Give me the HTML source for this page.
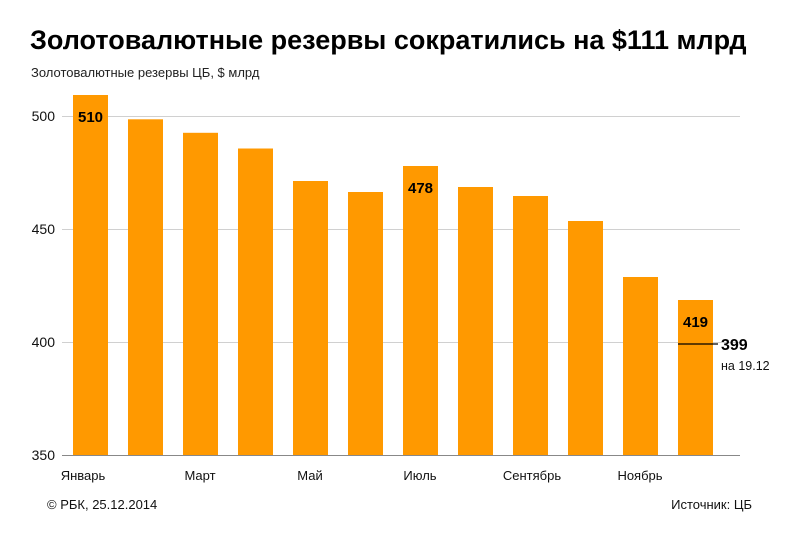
<!DOCTYPE html>
<html><head><meta charset="utf-8"><style>
body{margin:0;background:#fff;}
svg{display:block;font-family:"Liberation Sans",sans-serif;}
</style></head><body>
<svg width="800" height="533" viewBox="0 0 800 533">
<text x="30" y="49" font-size="27" font-weight="bold" fill="#000">Золотовалютные резервы сократились на $111 млрд</text>
<text x="31" y="77" font-size="13" fill="#222">Золотовалютные резервы ЦБ, $ млрд</text>
<g stroke="#d0d0d0" stroke-width="1">
<line x1="62" y1="116.5" x2="740" y2="116.5"/>
<line x1="62" y1="229.5" x2="740" y2="229.5"/>
<line x1="62" y1="342.5" x2="740" y2="342.5"/>
</g>
<line x1="62" y1="455.5" x2="740" y2="455.5" stroke="#888" stroke-width="1"/>
<g font-size="14" fill="#111" text-anchor="end">
<text x="55" y="121">500</text><text x="55" y="234">450</text><text x="55" y="347">400</text><text x="55" y="460">350</text>
</g>
<g fill="#ff9900">
<rect x="73" y="95" width="35" height="360"/>
<rect x="128" y="119.3" width="35" height="335.7"/>
<rect x="183" y="132.8" width="35" height="322.2"/>
<rect x="238" y="148.5" width="35" height="306.5"/>
<rect x="293" y="181" width="35" height="274"/>
<rect x="348" y="192" width="35" height="263"/>
<rect x="403" y="166" width="35" height="289"/>
<rect x="458" y="187" width="35" height="268"/>
<rect x="513" y="196" width="35" height="259"/>
<rect x="568" y="221" width="35" height="234"/>
<rect x="623" y="277" width="35" height="178"/>
<rect x="678" y="300" width="35" height="155"/>
</g>
<g font-size="15" font-weight="bold" fill="#000" text-anchor="middle">
<text x="90.5" y="122">510</text>
<text x="420.5" y="193">478</text>
<text x="695.5" y="327">419</text>
</g>
<line x1="678" y1="344" x2="718" y2="344" stroke="#000" stroke-width="1.3"/>
<text x="721" y="350" font-size="16" font-weight="bold" fill="#000">399</text>
<text x="721" y="370" font-size="12.5" fill="#111">на 19.12</text>
<g font-size="13" fill="#111" text-anchor="middle">
<text x="83" y="480">Январь</text>
<text x="200" y="480">Март</text>
<text x="310" y="480">Май</text>
<text x="420" y="480">Июль</text>
<text x="532" y="480">Сентябрь</text>
<text x="640" y="480">Ноябрь</text>
</g>
<text x="47" y="509" font-size="13" fill="#111">© РБК, 25.12.2014</text>
<text x="752" y="509" font-size="13" fill="#111" text-anchor="end">Источник: ЦБ</text>
</svg>
</body></html>
